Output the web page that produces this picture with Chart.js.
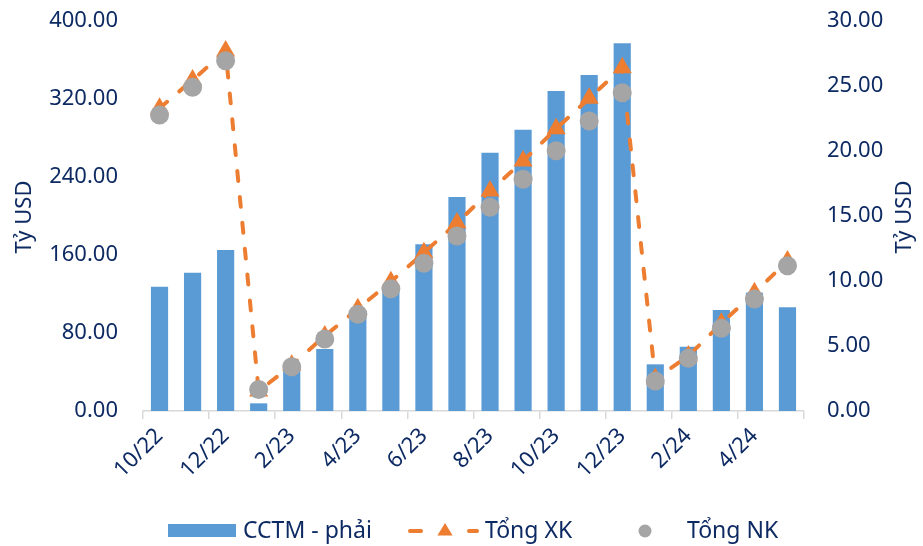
<!DOCTYPE html>
<html>
<head>
<meta charset="utf-8">
<script src="https://cdn.jsdelivr.net/npm/chart.js@4/dist/chart.umd.min.js"></script>
<style>
  html, body { margin: 0; padding: 0; background: #ffffff; }
  #wrap { position: relative; width: 923px; height: 546px; }
</style>
</head>
<body>
<div id="wrap"><canvas id="c" width="923" height="546"></canvas></div>
<script>
const categories = ['10/22','11/22','12/22','1/23','2/23','3/23','4/23','5/23','6/23','7/23','8/23','9/23','10/23','11/23','12/23','1/24','2/24','3/24','4/24','5/24'];
const cctm   = [9.56, 10.64, 12.38, 0.59, 3.3, 4.77, 7.4, 9.2, 12.82, 16.46, 19.87, 21.64, 24.62, 25.85, 28.28, 3.59, 4.95, 7.77, 9.1, 7.98];
const tongXK = [310.5, 339.5, 369.2, 20.5, 46.9, 76.9, 104.9, 132.6, 162.4, 192.8, 225.6, 256.4, 289.5, 320.7, 352.1, 33.0, 56.4, 89.9, 121.3, 153.8];
const tongNK = [303.6, 332.0, 359.3, 22.0, 45.4, 73.8, 99.2, 125.4, 151.5, 179.5, 208.9, 237.6, 267.0, 297.4, 326.5, 30.8, 54.0, 84.8, 114.9, 149.0];
const leftTicks = [0, 80, 160, 240, 320, 400];
const rightTicks = [0, 5, 10, 15, 20, 25, 30];
const seriesNames = ['CCTM - phải', 'Tổng XK', 'Tổng NK'];
const axisTitle = 'Tỷ USD';

const TXT = '#0D2A63';
const FONT = "'Noto Sans', 'DejaVu Sans', sans-serif";
const BLUE = '#5B9BD5', ORANGE = '#ED7D31', GRAY = '#A5A5A5';

const extrasPlugin = {
  id: 'extras',
  afterDraw(chart) {
    const ctx = chart.ctx;
    ctx.save();
    ctx.fillStyle = TXT;
    ctx.font = "22px " + FONT;
    ctx.textAlign = 'center';
    ctx.textBaseline = 'middle';
    [[25, 217], [905, 217]].forEach(([x, y]) => {
      ctx.save();
      ctx.translate(x, y);
      ctx.rotate(-Math.PI / 2);
      ctx.fillText(axisTitle, 0, 0);
      ctx.restore();
    });
    // legend
    const ly = 531;
    ctx.font = "23px " + FONT;
    ctx.textAlign = 'left';
    ctx.fillStyle = BLUE;
    ctx.fillRect(168, ly - 7, 68, 13);
    ctx.fillStyle = TXT;
    ctx.fillText(seriesNames[0], 243, ly);
    ctx.strokeStyle = ORANGE;
    ctx.lineWidth = 4;
    ctx.lineCap = 'round';
    ctx.beginPath();
    ctx.moveTo(410, ly); ctx.lineTo(421, ly);
    ctx.moveTo(469, ly); ctx.lineTo(477, ly);
    ctx.stroke();
    ctx.fillStyle = ORANGE;
    ctx.beginPath();
    const tx = 445, r = 8;
    ctx.moveTo(tx, ly - r);
    ctx.lineTo(tx + r * 0.95, ly + r * 0.55);
    ctx.lineTo(tx - r * 0.95, ly + r * 0.55);
    ctx.closePath();
    ctx.fill();
    ctx.fillStyle = TXT;
    ctx.fillText(seriesNames[1], 485, ly);
    ctx.fillStyle = GRAY;
    ctx.beginPath();
    ctx.arc(645, ly, 6.5, 0, Math.PI * 2);
    ctx.fill();
    ctx.fillStyle = TXT;
    ctx.fillText(seriesNames[2], 687, ly);
    ctx.restore();
  }
};

new Chart(document.getElementById('c'), {
  data: {
    labels: categories,
    datasets: [
      {
        type: 'bar', label: seriesNames[0], data: cctm, yAxisID: 'y1',
        backgroundColor: BLUE, borderWidth: 0,
        barPercentage: 1.0, categoryPercentage: 0.52, order: 3
      },
      {
        type: 'line', label: seriesNames[1], data: tongXK, yAxisID: 'y',
        borderColor: ORANGE, borderWidth: 4, borderDash: [10, 16], borderCapStyle: 'round',
        pointStyle: 'triangle', pointRadius: 11, pointBackgroundColor: ORANGE,
        pointBorderWidth: 0, pointBorderColor: ORANGE, tension: 0, fill: false, order: 2
      },
      {
        type: 'line', label: seriesNames[2], data: tongNK, yAxisID: 'y',
        showLine: false, pointStyle: 'circle', pointRadius: 9.5,
        pointBackgroundColor: GRAY, pointBorderWidth: 0, pointBorderColor: GRAY, order: 1
      }
    ]
  },
  options: {
    responsive: false,
    animation: false,
    events: [],
    layout: { padding: { top: 21, bottom: 0, left: 0, right: 0 } },
    plugins: { legend: { display: false }, tooltip: { enabled: false } },
    scales: {
      x: {
        type: 'category',
        offset: true,
        grid: {
          display: true, offset: true, drawOnChartArea: false, drawTicks: true, tickLength: 8,
          color: c => (c.index === undefined || c.index % 2 === 0) ? '#D9D9D9' : 'rgba(0,0,0,0)',
          lineWidth: 1.5
        },
        border: { display: true, color: '#D9D9D9', width: 1.5 },
        ticks: {
          autoSkip: false, maxRotation: 45, minRotation: 45, padding: 4,
          color: TXT, font: { family: FONT, size: 22 },
          callback: (v, i) => (i % 2 === 0 ? categories[i] : '')
        },
        afterFit: s => { s.height = 135; }
      },
      y: {
        position: 'left', min: 0, max: 400,
        afterBuildTicks: s => { s.ticks = leftTicks.map(v => ({ value: v })); },
        grid: { display: false, drawTicks: false }, border: { display: false },
        ticks: { color: TXT, padding: 25, font: { family: FONT, size: 22 }, callback: v => Number(v).toFixed(2) },
        afterFit: s => { s.width = 143; s.paddingTop = 0; s.paddingBottom = 0; }
      },
      y1: {
        position: 'right', min: 0, max: 30,
        afterBuildTicks: s => { s.ticks = rightTicks.map(v => ({ value: v })); },
        grid: { display: false, drawTicks: false }, border: { display: false },
        ticks: { color: TXT, padding: 23, font: { family: FONT, size: 22 }, callback: v => Number(v).toFixed(2) },
        afterFit: s => { s.width = 119; s.paddingTop = 0; s.paddingBottom = 0; }
      }
    }
  },
  plugins: [extrasPlugin]
});
</script>
</body>
</html>
